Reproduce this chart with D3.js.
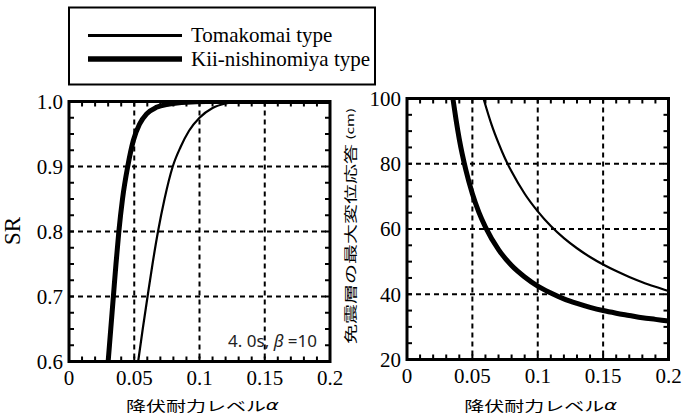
<!DOCTYPE html>
<html>
<head>
<meta charset="utf-8">
<script src="https://cdn.jsdelivr.net/npm/d3@7"></script>
<style>
  body { margin: 0; background: #fff; }
  svg { display: block; }
</style>
</head>
<body>
<svg id="viz"></svg>
<script>
// data
const alphaTicks = [0, 0.05, 0.1, 0.15, 0.2];
const srTicks = [0.6, 0.7, 0.8, 0.9, 1.0];
const dispTicks = [20, 40, 60, 80, 100];

// SR vs alpha
const srToma = [[0.053, 0.6], [0.0565, 0.65], [0.0602, 0.7], [0.064, 0.75], [0.0682, 0.8], [0.0732, 0.85],
  [0.0795, 0.9], [0.0855, 0.93], [0.092, 0.955], [0.1, 0.975], [0.11, 0.99], [0.12, 0.997], [0.13, 0.9995],
  [0.14, 1.0], [0.2, 1.0]];
const srKii = [[0.030, 0.6], [0.032, 0.65], [0.034, 0.7], [0.036, 0.75], [0.0382, 0.8], [0.041, 0.85],
  [0.045, 0.9], [0.0493, 0.94], [0.054, 0.965], [0.0595, 0.981], [0.067, 0.991], [0.077, 0.996],
  [0.09, 0.999], [0.105, 1.0], [0.2, 1.0]];

// max displacement (cm) vs alpha
const dispToma = [[0.0585, 100], [0.065, 91.6], [0.07, 86.3], [0.075, 81.6], [0.08, 77.6], [0.09, 70.8],
  [0.1, 65.4], [0.11, 60.9], [0.12, 57.2], [0.13, 54.1], [0.14, 51.4], [0.15, 49.1], [0.16, 47.1],
  [0.17, 45.3], [0.18, 43.7], [0.19, 42.3], [0.2, 41.0]];
const dispKii = [[0.0351, 100], [0.0375, 93.5], [0.04, 87.5], [0.045, 78.1], [0.05, 70.8], [0.055, 65.1],
  [0.06, 60.6], [0.07, 53.7], [0.08, 48.8], [0.09, 45.3], [0.1, 42.5], [0.11, 40.4], [0.12, 38.6],
  [0.13, 37.2], [0.14, 36.0], [0.15, 35.0], [0.16, 34.2], [0.17, 33.5], [0.18, 32.8], [0.19, 32.3], [0.2, 31.8]];

const series = [
  {name: "Tomakomai type", width: 2.2},
  {name: "Kii-nishinomiya type", width: 5}
];

const width = 683, height = 418;
const SERIF = "Liberation Serif";
const CJK = "Noto Sans CJK JP";

const svg = d3.select("#viz").attr("width", width).attr("height", height)
  .attr("viewBox", [0, 0, width, height]);

// legend
const leg = svg.append("g");
leg.append("rect").attr("x", 69).attr("y", 7.5).attr("width", 306).attr("height", 77)
  .attr("fill", "none").attr("stroke", "#000").attr("stroke-width", 2);
series.forEach((s, i) => {
  const yy = 35.5 + i * 23.5;
  leg.append("line").attr("x1", 88).attr("x2", 182).attr("y1", yy).attr("y2", yy)
    .attr("stroke", "#000").attr("stroke-width", s.width + 0.6);
  leg.append("text").attr("x", 191).attr("y", yy).attr("dy", "0.33em")
    .style("font-family", SERIF).style("font-size", "21px").text(s.name);
});

function panel(opt) {
  const x = d3.scaleLinear().domain([0, 0.2]).range([opt.left, opt.right]);
  const y = d3.scaleLinear().domain(opt.yDomain).range([opt.bottom, opt.top]);
  const g = svg.append("g");

  const clipId = "clip" + opt.id;
  svg.append("clipPath").attr("id", clipId).append("rect")
    .attr("x", opt.left).attr("y", opt.top)
    .attr("width", opt.right - opt.left).attr("height", opt.bottom - opt.top);

  // dashed grid
  g.selectAll(".gx").data(alphaTicks.slice(1, -1)).join("line")
    .attr("x1", d => x(d)).attr("x2", d => x(d)).attr("y1", opt.top).attr("y2", opt.bottom)
    .attr("stroke", "#000").attr("stroke-width", 2).attr("stroke-dasharray", "5,4");
  g.selectAll(".gy").data(opt.yTicks.slice(1, -1)).join("line")
    .attr("y1", d => y(d)).attr("y2", d => y(d)).attr("x1", opt.left).attr("x2", opt.right)
    .attr("stroke", "#000").attr("stroke-width", 2).attr("stroke-dasharray", "5,4");

  // minor ticks inside on all sides
  const xMinor = d3.range(0, 0.2001, 0.01);
  const yMinor = d3.range(opt.yDomain[0], opt.yDomain[1] + 1e-9, opt.yMinorStep);
  const tk = g.append("g").attr("stroke", "#000").attr("stroke-width", 2);
  xMinor.forEach(v => {
    tk.append("line").attr("x1", x(v)).attr("x2", x(v)).attr("y1", opt.bottom).attr("y2", opt.bottom - 5);
    tk.append("line").attr("x1", x(v)).attr("x2", x(v)).attr("y1", opt.top).attr("y2", opt.top + 5);
  });
  yMinor.forEach(v => {
    tk.append("line").attr("y1", y(v)).attr("y2", y(v)).attr("x1", opt.left).attr("x2", opt.left + 5);
    tk.append("line").attr("y1", y(v)).attr("y2", y(v)).attr("x1", opt.right).attr("x2", opt.right - 5);
  });

  // curves
  const line = d3.line().x(d => x(d[0])).y(d => y(d[1])).curve(d3.curveMonotoneX);
  opt.data.forEach((d, i) => {
    g.append("path").datum(d).attr("d", line).attr("fill", "none")
      .attr("stroke", "#000").attr("stroke-width", series[i].width)
      .attr("stroke-linejoin", "round")
      .attr("clip-path", `url(#${clipId})`);
  });

  // frame
  g.append("rect").attr("x", opt.left).attr("y", opt.top)
    .attr("width", opt.right - opt.left).attr("height", opt.bottom - opt.top)
    .attr("fill", "none").attr("stroke", "#000").attr("stroke-width", 3);

  // tick labels
  g.selectAll(".xl").data(alphaTicks).join("text")
    .attr("x", d => x(d)).attr("y", opt.bottom + 23.5).attr("text-anchor", "middle")
    .style("font-family", SERIF).style("font-size", "21px").text(d => String(d));
  g.selectAll(".yl").data(opt.yTicks).join("text")
    .attr("x", opt.left - 6).attr("y", d => y(d)).attr("dy", "0.35em").attr("text-anchor", "end")
    .style("font-family", SERIF).style("font-size", "21px").text(opt.yFormat);

  // x title
  const xt = g.append("text")
    .attr("transform", `translate(${(opt.left + opt.right) / 2 + 3},405) scale(1,0.68)`)
    .attr("text-anchor", "middle").attr("dominant-baseline", "central")
    .style("font-family", CJK).style("font-size", "20px");
  xt.append("tspan").text("降伏耐力レベル");
  xt.append("tspan").style("font-style", "italic").style("font-family", "DejaVu Sans").text("α");
  return {x, y, g};
}

panel({
  id: "L", left: 69, right: 330, top: 101.5, bottom: 361.5,
  yDomain: [0.6, 1.0], yTicks: srTicks, yMinorStep: 0.025, yFormat: d3.format(".1f"),
  data: [srToma, srKii]
});

panel({
  id: "R", left: 407, right: 668.5, top: 98.5, bottom: 359.5,
  yDomain: [20, 100], yTicks: dispTicks, yMinorStep: 5, yFormat: d => String(d),
  data: [dispToma, dispKii]
});

// y titles
svg.append("text").attr("transform", "translate(12,231) rotate(-90)")
  .attr("text-anchor", "middle").attr("dominant-baseline", "central")
  .style("font-family", SERIF).style("font-size", "23px").text("SR");

const yt = svg.append("text")
  .attr("transform", "translate(349,226) rotate(-90) scale(1,0.65)")
  .attr("text-anchor", "middle").attr("dominant-baseline", "central")
  .style("font-family", CJK).style("font-size", "20px");
yt.append("tspan").text("免震層の最大変位応答 ");
yt.append("tspan").style("font-size", "15px").text("(cm)");

// annotation
const ann = svg.append("text").attr("x", 317).attr("y", 341).attr("dy", "0.35em")
  .attr("text-anchor", "end").style("font-family", "Noto Sans").style("font-size", "17px")
  .attr("fill", "#222");
ann.append("tspan").text("4. 0s, ");
ann.append("tspan").style("font-style", "italic").text("β");
ann.append("tspan").text(" =10");
</script>
</body>
</html>
